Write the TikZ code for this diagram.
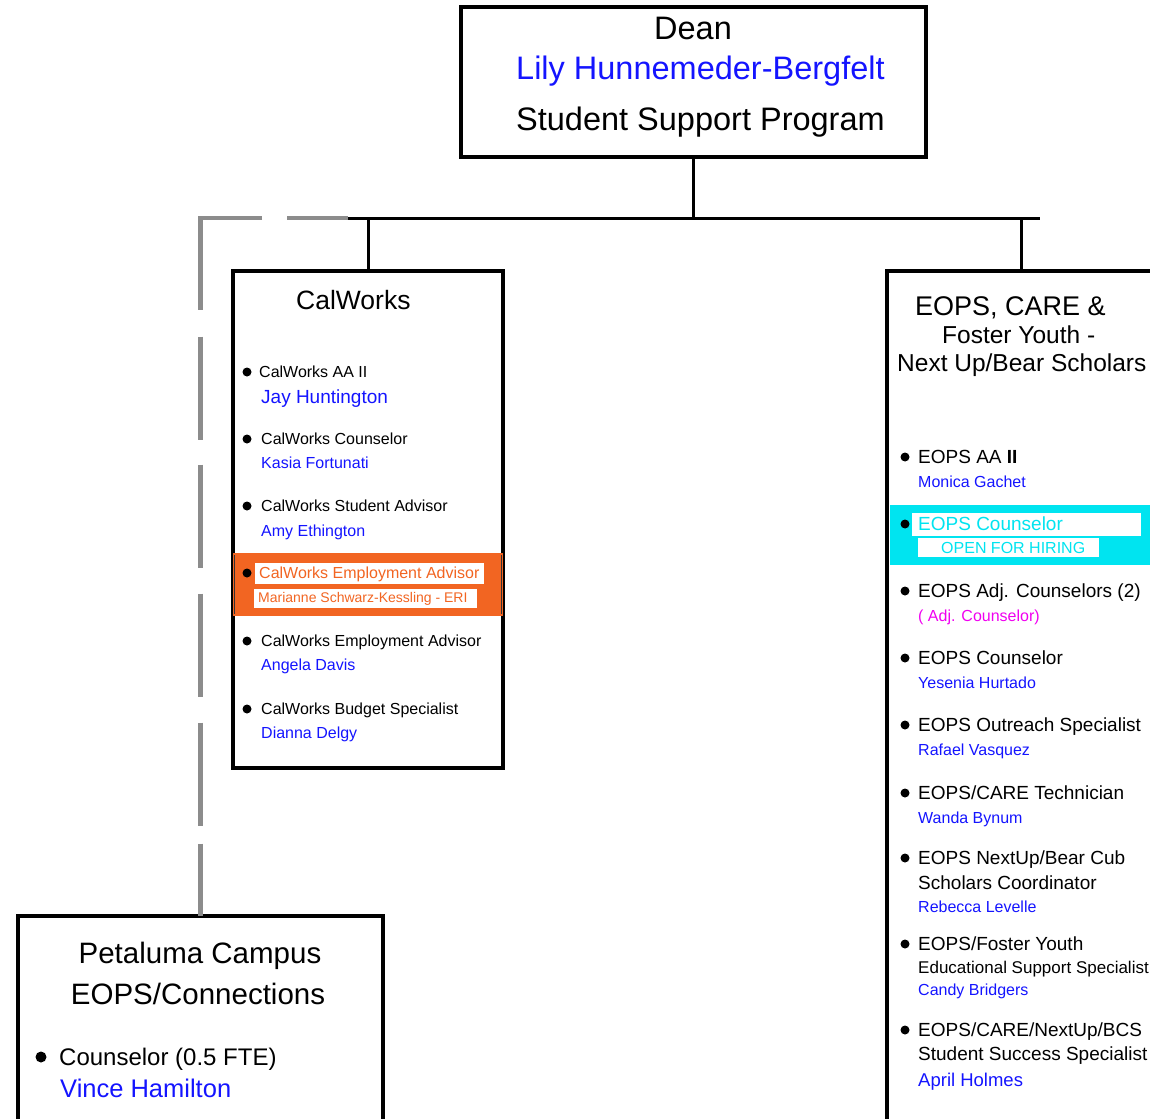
\documentclass[tikz,border=0pt]{standalone}
\usepackage{fontspec}
\setmainfont{Liberation Sans}
\usetikzlibrary{calc}
\definecolor{nameblue}{RGB}{20,20,255}
\definecolor{eriorange}{RGB}{242,101,34}
\definecolor{hirecyan}{RGB}{0,228,240}
\definecolor{adjpink}{RGB}{240,0,240}
\definecolor{dashgray}{RGB}{140,140,140}
\def\fsz#1{\fontsize{#1}{#1}\selectfont}
\def\pdot(#1,#2){\fill (#1,#2) circle (4.5pt);}
\tikzset{
	box/.style={draw, line width=3.5pt, inner sep=0pt, outer sep=0pt, anchor=north west},
	txt/.style={anchor=base west, inner sep=0pt},
	who/.style={txt, text=nameblue},
	bus/.style={line width=3pt},
}

\begin{document}
\begin{tikzpicture}[x=1pt, y=-1pt]
		%%%%% START %%%%%
		\clip (0, 0) rectangle (1150, 1118);
		
		% boxes
		\node[box, line width=4pt, minimum width=465pt, minimum height=150pt] (dean) at (461, 7) {};
		\node[box, minimum width=270pt, minimum height=497pt] (calworks) at (233, 271) {};
		\node[box, minimum width=268pt, minimum height=900pt] (eops) at (887, 271) {};
		\node[box, line width=4pt, minimum width=365pt, minimum height=260pt] (petaluma) at (18, 916) {};
		
		% connectors
		\coordinate (busL) at (348, 218);
		\coordinate (busR) at (1040, 218);
		\draw[bus] (busL) -- (busR);
		\draw[bus] (dean.south) -- (dean.south |- busL);
		\draw[bus] (calworks.north) -- (calworks.north |- busL);
		\draw[bus] (eops.north) -- (eops.north |- busL);
		\draw[line width=4.5pt, color=dashgray, dash pattern=on 61pt off 25pt on 153pt off 27pt on 103pt off 25pt on 103pt off 26pt on 103pt off 26pt on 103pt off 18pt on 120pt] (busL) -- (busL -| petaluma.north) -- (petaluma.north);
		
		% dean
		\node[txt, font=\fsz{32.5}] (dean-title) at (654, 40) {Dean};
		\node[who, font=\fsz{32.5}] (dean-name) at (516, 80) {Lily Hunnemeder-Bergfelt};
		\node[txt, font=\fsz{32.5}] (dean-prog) at (516, 131) {Student Support Program};
		
		% calworks
		\fill[eriorange] (233, 553) rectangle (503, 616);
		\draw[line width=1pt, color=black!80] (234, 555) -- (234, 614);
		\draw[line width=1pt, color=black!80] (501, 555) -- (501, 614);
		\fill[white] (255, 563) rectangle (484, 584);
		\fill[white] (254, 589) rectangle (477, 608);
		
		\node[txt, font=\fsz{26.5}] (cw-title) at (296, 309) {CalWorks};
		
		\pdot(247, 372)
		\node[txt, font=\fsz{16}] (cw1-role) at (259, 377) {CalWorks AA II};
		\node[who, font=\fsz{19}] (cw1-name) at (261, 403) {Jay Huntington};
		\pdot(247, 439)
		\node[txt, font=\fsz{16}] (cw2-role) at (261, 444) {CalWorks Counselor};
		\node[who, font=\fsz{16}] (cw2-name) at (261, 468) {Kasia Fortunati};
		\pdot(247, 506)
		\node[txt, font=\fsz{16}] (cw3-role) at (261, 511) {CalWorks Student Advisor};
		\node[who, font=\fsz{16}] (cw3-name) at (261, 536) {Amy Ethington};
		\pdot(247, 573)
		\node[txt, font=\fsz{16}, text=eriorange] (cw4-role) at (259, 578) {CalWorks Employment Advisor};
		\node[txt, font=\fsz{14}, text=eriorange] (cw4-name) at (258, 602) {Marianne Schwarz-Kessling - ERI};
		\pdot(247, 641)
		\node[txt, font=\fsz{16}] (cw5-role) at (261, 646) {CalWorks Employment Advisor};
		\node[who, font=\fsz{16}] (cw5-name) at (261, 670) {Angela Davis};
		\pdot(247, 709)
		\node[txt, font=\fsz{16}] (cw6-role) at (261, 714) {CalWorks Budget Specialist};
		\node[who, font=\fsz{16}] (cw6-name) at (261, 738) {Dianna Delgy};
		
		% eops
		\fill[hirecyan] (889.5, 505) rectangle (1150, 565);
		\fill[white] (912, 513) rectangle (1141, 536);
		\fill[white] (918, 538) rectangle (1099, 557);
		
		\node[txt, font=\fsz{27}] (eo-title1) at (915, 315) {EOPS, CARE \&};
		\node[txt, font=\fsz{24.5}] (eo-title2) at (942, 343) {Foster Youth -};
		\node[txt, font=\fsz{24.5}] (eo-title3) at (897, 371) {Next Up/Bear Scholars};
		
		\pdot(905, 457)
		\node[txt, font=\fsz{19}] (eo1-role) at (918, 463) {EOPS AA {\bfseries II}};
		\node[who, font=\fsz{16}] (eo1-name) at (918, 487) {Monica Gachet};
		\pdot(905, 524)
		\node[txt, font=\fsz{19}, text=hirecyan] (eo2-role) at (918, 530) {EOPS Counselor};
		\node[txt, font=\fsz{16}, text=hirecyan] (eo2-name) at (941, 553) {OPEN FOR HIRING};
		\pdot(905, 591)
		\node[txt, font=\fsz{19}] (eo3-role) at (918, 597) {EOPS Adj. Counselors (2)};
		\node[txt, font=\fsz{16}, text=adjpink] (eo3-name) at (918, 621) {( Adj. Counselor)};
		\pdot(905, 658)
		\node[txt, font=\fsz{19}] (eo4-role) at (918, 664) {EOPS Counselor};
		\node[who, font=\fsz{16}] (eo4-name) at (918, 688) {Yesenia Hurtado};
		\pdot(905, 725)
		\node[txt, font=\fsz{19}] (eo5-role) at (918, 731) {EOPS Outreach Specialist};
		\node[who, font=\fsz{16}] (eo5-name) at (918, 755) {Rafael Vasquez};
		\pdot(905, 793)
		\node[txt, font=\fsz{19}] (eo6-role) at (918, 799) {EOPS/CARE Technician};
		\node[who, font=\fsz{16}] (eo6-name) at (918, 823) {Wanda Bynum};
		\pdot(905, 858)
		\node[txt, font=\fsz{19}] (eo7-role) at (918, 864) {EOPS NextUp/Bear Cub};
		\node[txt, font=\fsz{19}] (eo7-more) at (918, 889) {Scholars Coordinator};
		\node[who, font=\fsz{16}] (eo7-name) at (918, 912) {Rebecca Levelle};
		\pdot(905, 944)
		\node[txt, font=\fsz{19}] (eo8-role) at (918, 950) {EOPS/Foster Youth};
		\node[txt, font=\fsz{17}] (eo8-more) at (918, 973) {Educational Support Specialist};
		\node[who, font=\fsz{16}] (eo8-name) at (918, 995) {Candy Bridgers};
		\pdot(905, 1030)
		\node[txt, font=\fsz{19}] (eo9-role) at (918, 1036) {EOPS/CARE/NextUp/BCS};
		\node[txt, font=\fsz{19}] (eo9-more) at (918, 1060) {Student Success Specialist};
		\node[who, font=\fsz{18.5}] (eo9-name) at (918, 1086) {April Holmes};
		
		% petaluma
		\node[anchor=base, inner sep=0pt, font=\fsz{29.5}] (pe-title1) at (200, 963) {Petaluma Campus};
		\node[anchor=base, inner sep=0pt, font=\fsz{29.5}] (pe-title2) at (198, 1004) {EOPS/Connections};
		\fill (41, 1057) circle (5.5pt);
		\node[txt, font=\fsz{24}] (pe1-role) at (59, 1065) {Counselor (0.5 FTE)};
		\node[who, font=\fsz{25.5}] (pe1-name) at (60, 1097) {Vince Hamilton};
		
		%%%%% END %%%%%
	\end{tikzpicture}
\end{document}
